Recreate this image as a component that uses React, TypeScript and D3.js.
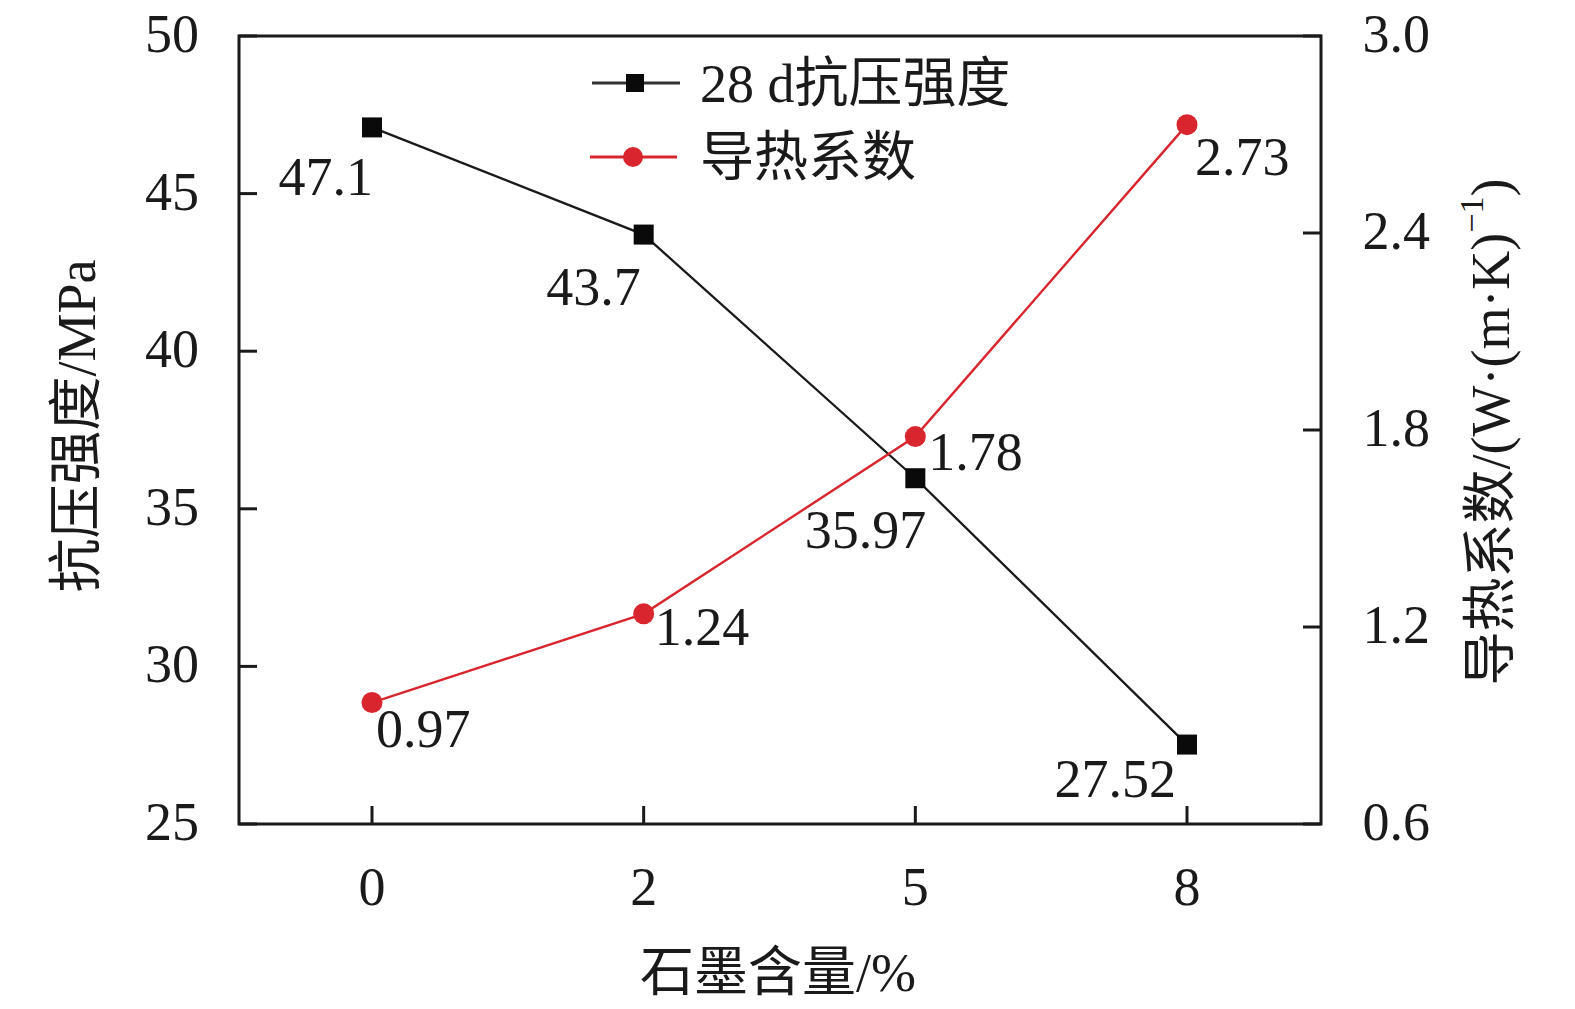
import React from 'react';
import * as d3 from 'd3';

// ---- data ----
const categories = ['0', '2', '5', '8'];
const strength = [47.1, 43.7, 35.97, 27.52];
const conductivity = [0.97, 1.24, 1.78, 2.73];
const strengthLabels = ['47.1', '43.7', '35.97', '27.52'];
const conductivityLabels = ['0.97', '1.24', '1.78', '2.73'];
const leftTicks = [25, 30, 35, 40, 45, 50];
const rightTicks = [0.6, 1.2, 1.8, 2.4, 3.0];
const rightTickLabels = ['0.6', '1.2', '1.8', '2.4', '3.0'];
const legendNames = ['28 d抗压强度', '导热系数'];

// ---- layout (not data) ----
const W = 1575;
const H = 1009;
const frame = { left: 239, right: 1321, top: 36, bottom: 824 };
const strengthLabelOffsets: [number, number][] = [[1, 68], [-3, 70], [11, 70], [-11, 52]];
const condLabelOffsets: [number, number][] = [[4, 44], [11, 31], [13, 33], [8, 50]];

const BLACK = '#1a1a1a';
const RED = '#d9252e';
const FONT = '"Liberation Serif", "Times New Roman", "Noto Sans CJK SC", serif';
const FS = 54;

export default function App() {
  const x = d3.scalePoint<string>().domain(categories).range([372, 1187]);
  const yL = d3.scaleLinear().domain([25, 50]).range([frame.bottom, frame.top]);
  const yR = d3.scaleLinear().domain([0.6, 3.0]).range([frame.bottom, frame.top]);

  const lineL = d3.line<number>().x((_, i) => x(categories[i])!).y((d) => yL(d));
  const lineR = d3.line<number>().x((_, i) => x(categories[i])!).y((d) => yR(d));

  const tickLen = 18;
  const sq = 20;
  const r = 10.5;

  return (
    <div style={{ position: 'absolute', left: 0, top: 0, background: '#fff' }}>
      <svg width={W} height={H} style={{ display: 'block' }} fontFamily={FONT}>
        <rect x={0} y={0} width={W} height={H} fill="#fff" />

        {/* left ticks */}
        {leftTicks.map((t) => (
          <g key={'lt' + t}>
            <line x1={frame.left} x2={frame.left + tickLen} y1={yL(t)} y2={yL(t)} stroke={BLACK} strokeWidth={3} />
            <text x={199} y={yL(t) + 16} fontSize={FS} textAnchor="end" fill={BLACK}>{t}</text>
          </g>
        ))}
        {/* right ticks */}
        {rightTicks.map((t, i) => (
          <g key={'rt' + t}>
            <line x1={frame.right - tickLen} x2={frame.right} y1={yR(t)} y2={yR(t)} stroke={BLACK} strokeWidth={3} />
            <text x={1430} y={yR(t) + 16} fontSize={FS} textAnchor="end" fill={BLACK}>{rightTickLabels[i]}</text>
          </g>
        ))}
        {/* x ticks */}
        {categories.map((c) => (
          <g key={'xt' + c}>
            <line x1={x(c)} x2={x(c)} y1={frame.bottom} y2={frame.bottom - tickLen} stroke={BLACK} strokeWidth={3} />
            <text x={x(c)} y={905} fontSize={FS} textAnchor="middle" fill={BLACK}>{c}</text>
          </g>
        ))}

        {/* frame */}
        <rect
          x={frame.left}
          y={frame.top}
          width={frame.right - frame.left}
          height={frame.bottom - frame.top}
          fill="none"
          stroke={BLACK}
          strokeWidth={3}
        />

        {/* series lines */}
        <path d={lineL(strength)!} fill="none" stroke={BLACK} strokeWidth={2.3} />
        <path d={lineR(conductivity)!} fill="none" stroke={RED} strokeWidth={2.4} />

        {/* markers */}
        {strength.map((v, i) => (
          <rect key={'sq' + i} x={x(categories[i])! - sq / 2} y={yL(v) - sq / 2} width={sq} height={sq} fill="#0a0a0a" />
        ))}
        {conductivity.map((v, i) => (
          <circle key={'ci' + i} cx={x(categories[i])} cy={yR(v)} r={r} fill={RED} />
        ))}

        {/* data labels */}
        {strength.map((v, i) => (
          <text
            key={'sl' + i}
            x={x(categories[i])! + strengthLabelOffsets[i][0]}
            y={yL(v) + strengthLabelOffsets[i][1]}
            fontSize={FS}
            textAnchor="end"
            fill={BLACK}
          >
            {strengthLabels[i]}
          </text>
        ))}
        {conductivity.map((v, i) => (
          <text
            key={'cl' + i}
            x={x(categories[i])! + condLabelOffsets[i][0]}
            y={yR(v) + condLabelOffsets[i][1]}
            fontSize={FS}
            textAnchor="start"
            fill={BLACK}
          >
            {conductivityLabels[i]}
          </text>
        ))}

        {/* legend */}
        <g>
          <line x1={592} x2={680} y1={83} y2={83} stroke="#333" strokeWidth={3} />
          <rect x={635 - 9} y={83 - 9} width={18} height={18} fill="#0a0a0a" />
          <text x={700} y={102} fontSize={FS} fill={BLACK}>{legendNames[0]}</text>
          <line x1={590} x2={677} y1={157} y2={157} stroke={RED} strokeWidth={3} />
          <circle cx={633} cy={157} r={10} fill={RED} />
          <text x={700} y={176} fontSize={FS} fill={BLACK}>{legendNames[1]}</text>
        </g>

        {/* axis titles */}
        <text
          transform={`translate(76,426) rotate(-90)`}
          fontSize={FS}
          textAnchor="middle"
          dy="0.35em"
          fill={BLACK}
        >
          抗压强度/MPa
        </text>
        <text
          transform={`translate(1490,432) rotate(-90)`}
          fontSize={FS}
          textAnchor="middle"
          dy="0.35em"
          fill={BLACK}
        >
          导热系数/(W·(m·K)
          <tspan fontSize={34} dy="-0.75em">−1</tspan>
          <tspan dy="0.47em">)</tspan>
        </text>
        <text x={778} y={991} fontSize={FS} textAnchor="middle" fill={BLACK}>
          石墨含量/%
        </text>
      </svg>
    </div>
  );
}
